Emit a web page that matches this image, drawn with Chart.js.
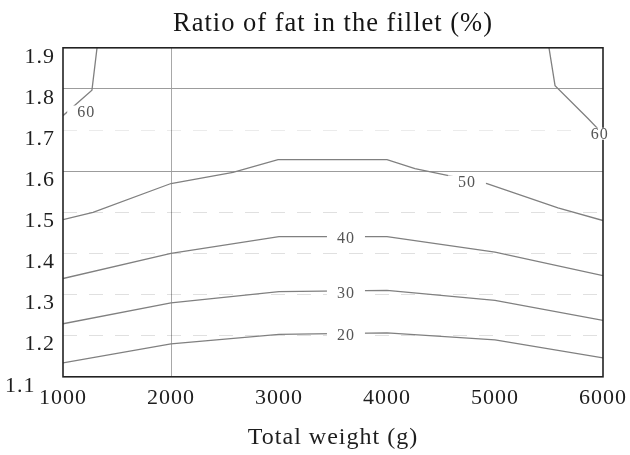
<!DOCTYPE html>
<html>
<head>
<meta charset="utf-8">
<script src="https://cdn.jsdelivr.net/npm/chart.js@4.4.1/dist/chart.umd.min.js"></script>
<style>
    html, body { margin: 0; padding: 0; background: #fff; }
    .fat-ratio { position: relative; width: 630px; height: 455px; }
</style>
</head>
<body>
<div class="fat-ratio"><canvas id="fat_ratio_chart"></canvas></div>
<script>
// Axis ticks
const weightTicks = [1000, 2000, 3000, 4000, 5000, 6000]
const ratioTicks = [1.1, 1.2, 1.3, 1.4, 1.5, 1.6, 1.7, 1.8, 1.9]

// Contour lines (fat % in the fillet), x = total weight, y = ratio
const weights = [1000, 2000, 3000, 4000, 5000, 6000]
const fat20 = [1.134, 1.180, 1.203, 1.207, 1.190, 1.146]
const fat30 = [1.229, 1.280, 1.307, 1.310, 1.286, 1.237]
const fat40 = [1.339, 1.400, 1.441, 1.441, 1.403, 1.346]

const fat50Weights = [1000, 1278, 2000, 2574, 2991, 4000, 4259, 4926, 5583, 6000]
const fat50 = [1.482, 1.500, 1.570, 1.597, 1.628, 1.628, 1.606, 1.570, 1.511, 1.480]

const fat60LeftWeights = [1000, 1268, 1315]
const fat60Left = [1.735, 1.797, 1.900]
const fat60RightWeights = [5500, 5556, 5861, 6000]
const fat60Right = [1.900, 1.808, 1.728, 1.690]

// Inline contour labels
const contourLabels = ['60', '60', '50', '40', '30', '20']
const labelWeights = [1215, 5970, 4740, 3620, 3620, 3620]
const labelRatios = [1.745, 1.691, 1.575, 1.437, 1.305, 1.203]

const serif = '"Liberation Serif", "Times New Roman", serif'
const lineColor = '#808080'

const toPoints = (xs, ys) => xs.map((x, i) => ({ x: x, y: ys[i] }))

const contour = (label, xs, ys) => ({
    label: label,
    data: toPoints(xs, ys),
    borderColor: lineColor,
    borderWidth: 1.3,
    pointRadius: 0,
    tension: 0,
    fill: false
})

// Slightly spaced type, as in the printed figure
const letterSpacing = {
    id: 'letterSpacing',
    beforeLayout(chart) { chart.ctx.letterSpacing = '1px' },
    beforeDraw(chart) { chart.ctx.letterSpacing = '1px' }
}

// Plot frame and the level labels sitting in gaps of the lines
const frameAndLabels = {
    id: 'frameAndLabels',
    afterDraw(chart) {
        const { ctx, chartArea: a, scales: { x, y } } = chart
        ctx.save()
        ctx.strokeStyle = '#222'
        ctx.lineWidth = 1.6
        ctx.strokeRect(a.left, a.top, a.right - a.left, a.bottom - a.top)

        ctx.font = '16px ' + serif
        ctx.letterSpacing = '1px'
        ctx.textAlign = 'center'
        ctx.textBaseline = 'middle'
        contourLabels.forEach((text, i) => {
            const px = x.getPixelForValue(labelWeights[i])
            const py = y.getPixelForValue(labelRatios[i])
            const w = ctx.measureText(text).width + 20
            ctx.fillStyle = '#fff'
            ctx.fillRect(px - w / 2, py - 6, w, 12)
            ctx.fillStyle = '#555'
            ctx.fillText(text, px, py + 1)
        })
        ctx.restore()
    }
}

const solidRatios = [1.6, 1.8]

const config = {
    type: 'line',
    data: {
        datasets: [
            contour('20', weights, fat20),
            contour('30', weights, fat30),
            contour('40', weights, fat40),
            contour('50', fat50Weights, fat50),
            contour('60', fat60LeftWeights, fat60Left),
            contour('60', fat60RightWeights, fat60Right)
        ]
    },
    options: {
        responsive: true,
        maintainAspectRatio: false,
        animation: false,
        layout: { padding: { left: 0, right: 27, top: 0, bottom: 1 } },
        plugins: {
            legend: { display: false },
            tooltip: { enabled: false },
            title: {
                display: true,
                fullSize: false,
                text: 'Ratio of fat in the fillet (%)',
                color: '#151515',
                font: { family: serif, size: 26.5, weight: 'normal', lineHeight: 1.2 },
                padding: { top: 8, bottom: 8 }
            }
        },
        scales: {
            x: {
                type: 'linear',
                min: 1000,
                max: 6000,
                afterBuildTicks: scale => { scale.ticks = weightTicks.map(v => ({ value: v })) },
                // the last label may hang past the frame, layout padding covers it
                afterFit: scale => { scale.paddingRight = 0 },
                grid: {
                    drawTicks: false,
                    color: ctx => (ctx.tick && ctx.tick.value === 2000) ? '#a8a8a8' : 'rgba(0,0,0,0)',
                    lineWidth: 1
                },
                border: { display: false },
                ticks: {
                    padding: 8,
                    color: '#1e1e1e',
                    font: { family: serif, size: 22 },
                    callback: v => String(v)
                },
                title: {
                    display: true,
                    text: 'Total weight (g)',
                    color: '#1e1e1e',
                    font: { family: serif, size: 24, lineHeight: 1.2 },
                    padding: { top: 4, bottom: 2 }
                }
            },
            y: {
                type: 'linear',
                min: 1.1,
                max: 1.9,
                afterBuildTicks: scale => { scale.ticks = ratioTicks.map(v => ({ value: v })) },
                afterFit: scale => { scale.width = 63 },
                grid: {
                    drawTicks: false,
                    color: ctx => {
                        if (!ctx.tick) return 'rgba(0,0,0,0)'
                        const v = Math.round(ctx.tick.value * 10) / 10
                        if (v === 1.1 || v === 1.9) return 'rgba(0,0,0,0)'
                        if (solidRatios.includes(v)) return '#9c9c9c'
                        return v === 1.7 ? 'rgba(0,0,0,0.08)' : 'rgba(0,0,0,0.12)'
                    },
                    lineWidth: 1
                },
                border: {
                    display: false,
                    dash: ctx => {
                        if (!ctx.tick) return []
                        const v = Math.round(ctx.tick.value * 10) / 10
                        return solidRatios.includes(v) ? [] : [14, 12]
                    }
                },
                ticks: {
                    padding: 8,
                    labelOffset: 9,
                    color: '#1e1e1e',
                    font: { family: serif, size: 22 },
                    // bottom label steps left to clear the first weight label
                    callback: v => Number(v).toFixed(1) === '1.1' ? '1.1   ' : Number(v).toFixed(1)
                }
            }
        }
    },
    plugins: [letterSpacing, frameAndLabels]
}

const canvas = document.getElementById('fat_ratio_chart')
new Chart(canvas.getContext('2d'), config)
</script>
</body>
</html>
